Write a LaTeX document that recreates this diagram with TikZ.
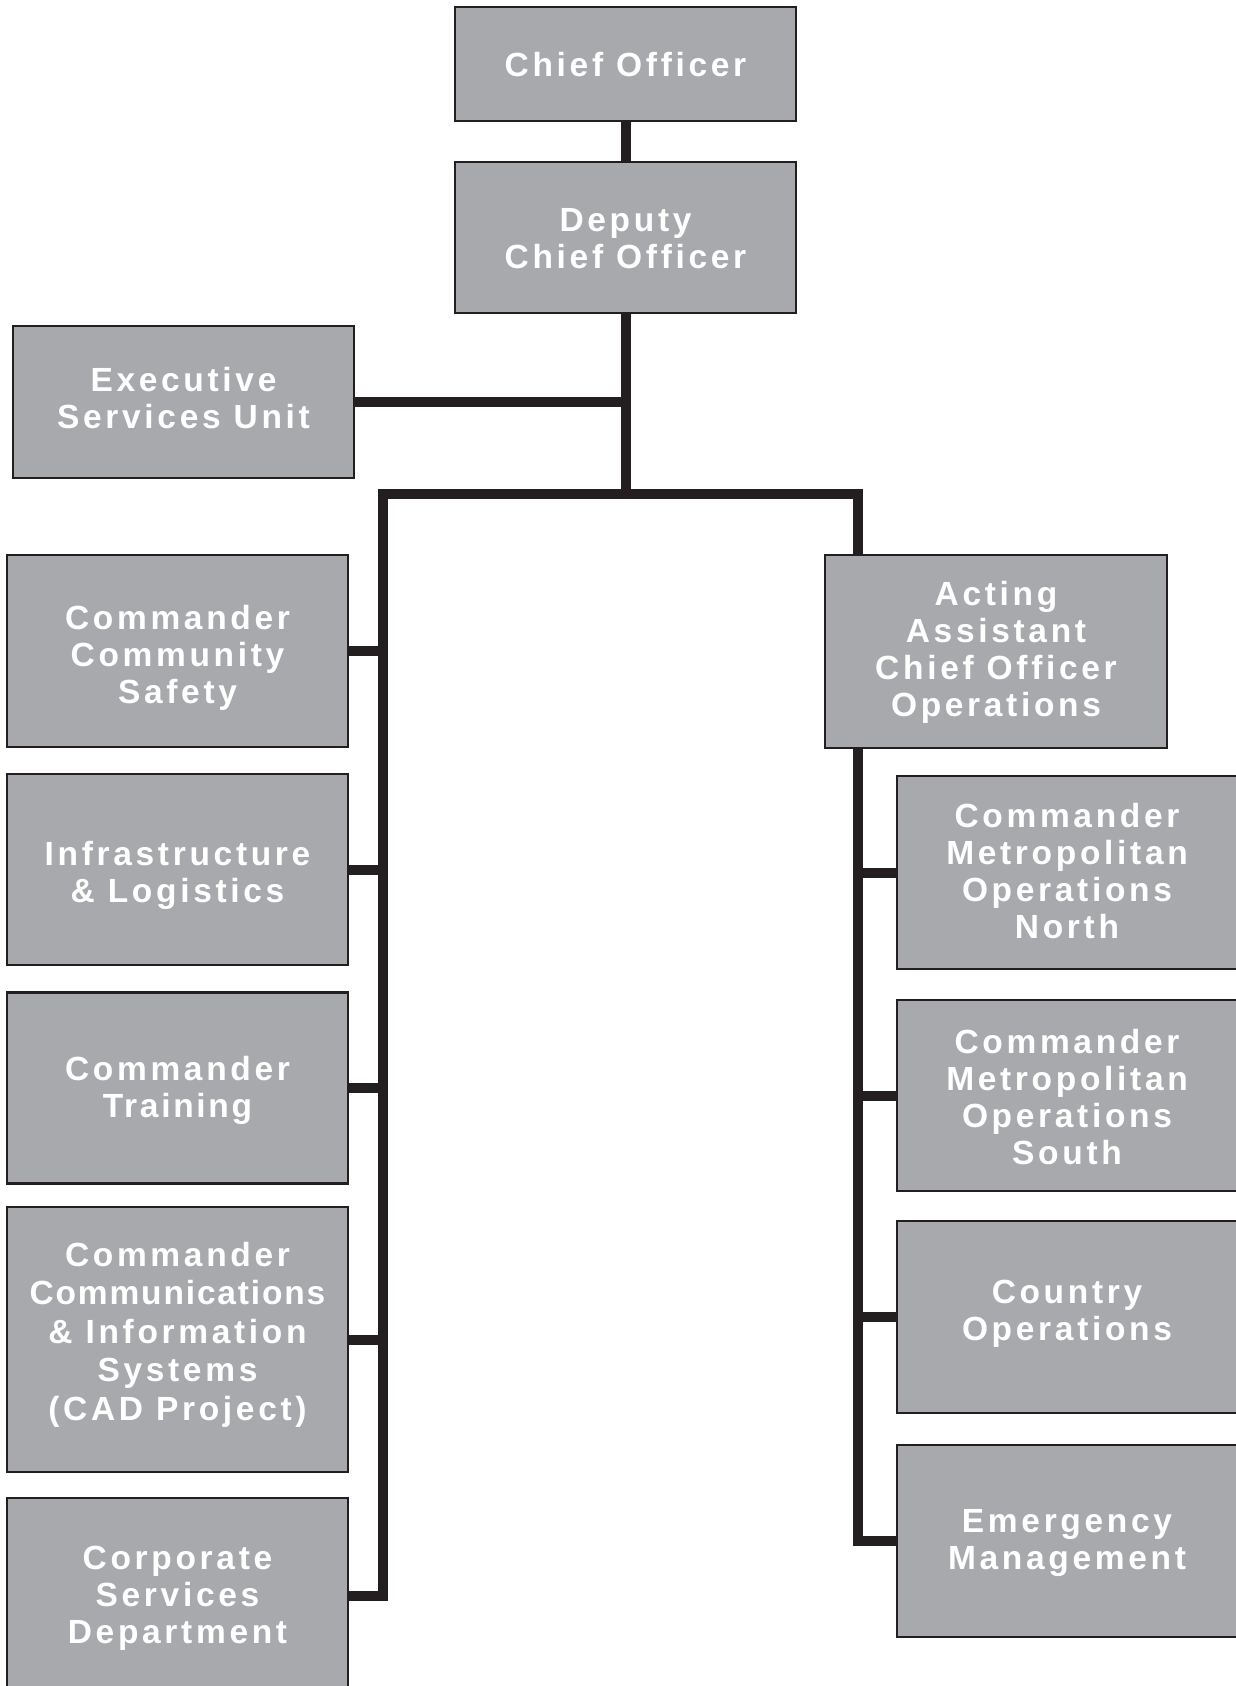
\documentclass[tikz,border=0pt]{standalone}
\usepackage{fontspec}
\usetikzlibrary{backgrounds}
\newfontfamily\boxfont[LetterSpace=11]{Liberation Sans Bold}
\newfontfamily\tightfont[LetterSpace=5.5]{Liberation Sans Bold}
\newfontfamily\midfont[LetterSpace=8]{Liberation Sans Bold}
\newcommand\topstrut[1]{\rule{0pt}{#1pt}}
\definecolor{boxgray}{HTML}{A7A9AC}
\definecolor{inkblack}{HTML}{231F20}
\tikzset{
  orgbox/.style={draw=inkblack, line width=2.5pt, fill=boxgray, inner sep=0pt,
    minimum width=341pt, align=center, text=white,
    font=\boxfont\fontsize{33.5}{37}\selectfont,
    execute at end node={\rule[-8.4pt]{0pt}{8.4pt}}},
  deepstrut/.style={execute at end node={\rule[-#1pt]{0pt}{#1pt}}},
  link/.style={draw=inkblack, line width=10pt, line join=miter, line cap=butt}
}
\begin{document}
\begin{tikzpicture}[x=1pt,y=-1pt]
\useasboundingbox (0,0) rectangle (1235,1686);
% top
\node[orgbox, minimum height=114pt] (chief) at (625.5,64) {\topstrut{33.5}Chief Officer};
\node[orgbox, minimum height=151pt] (deputy) at (625.5,237.5) {\topstrut{33.1}Deputy\\Chief Officer};
\node[orgbox, minimum height=152pt] (esu) at (183.5,402) {Executive\\Services Unit};
% left column
\node[orgbox, minimum height=192pt] (ccs) at (177.5,651) {\topstrut{39.5}Commander\\Community\\Safety};
\node[orgbox, minimum height=191pt] (infra) at (177.5,869.5) {\topstrut{37.5}Infrastructure\\\&~Logistics};
\node[orgbox, minimum height=191pt] (train) at (177.5,1088) {\topstrut{30.9}Commander\\{\midfont Training}};
\node[orgbox, deepstrut=16.4, minimum height=265pt, font=\boxfont\fontsize{33.5}{38.5}\selectfont] (cis) at (177.5,1339.5) {Commander\\{\tightfont Communications}\\\&~Information\\Systems\\(CAD Project)};
\node[orgbox, minimum height=196pt] (corp) at (177.5,1596) {\topstrut{28.7}Corporate\\Services\\Department};
% right column
\node[orgbox, minimum width=342pt, minimum height=193pt] (acting) at (996,651.5) {\topstrut{26.5}Acting\\Assistant\\Chief Officer\\Operations};
\node[orgbox, minimum width=340pt, minimum height=193pt] (mn) at (1067,872.5) {\topstrut{28.7}Commander\\Metropolitan\\Operations\\North};
\node[orgbox, minimum width=340pt, minimum height=191pt] (ms) at (1067,1095.5) {\topstrut{35.3}Commander\\Metropolitan\\Operations\\South};
\node[orgbox, deepstrut=12.6, minimum width=340pt, minimum height=192pt] (country) at (1067,1317) {Country\\Operations};
\node[orgbox, minimum width=340pt, minimum height=192pt] (emerg) at (1067,1541) {\topstrut{28.7}Emergency\\Management};
% connector junctions
\coordinate (bl) at (383,494);
\coordinate (br) at (858,494);
\begin{scope}[on background layer]
\draw[link] (chief.south) -- (deputy.north);
\draw[link] (deputy.south) -- (deputy.south |- bl);
\draw[link] (esu.east) -- (esu.east -| deputy.south);
\draw[link] (corp.east) -| (bl) -- (br) -- (br |- acting.north);
\draw[link] (ccs.east) -- (ccs.east -| bl);
\draw[link] (infra.east) -- (infra.east -| bl);
\draw[link] (train.east) -- (train.east -| bl);
\draw[link] (cis.east) -- (cis.east -| bl);
\draw[link] (br |- acting.south) |- (emerg.west);
\draw[link] (mn.west) -- (mn.west -| br);
\draw[link] (ms.west) -- (ms.west -| br);
\draw[link] (country.west) -- (country.west -| br);
\end{scope}
\end{tikzpicture}
\end{document}
